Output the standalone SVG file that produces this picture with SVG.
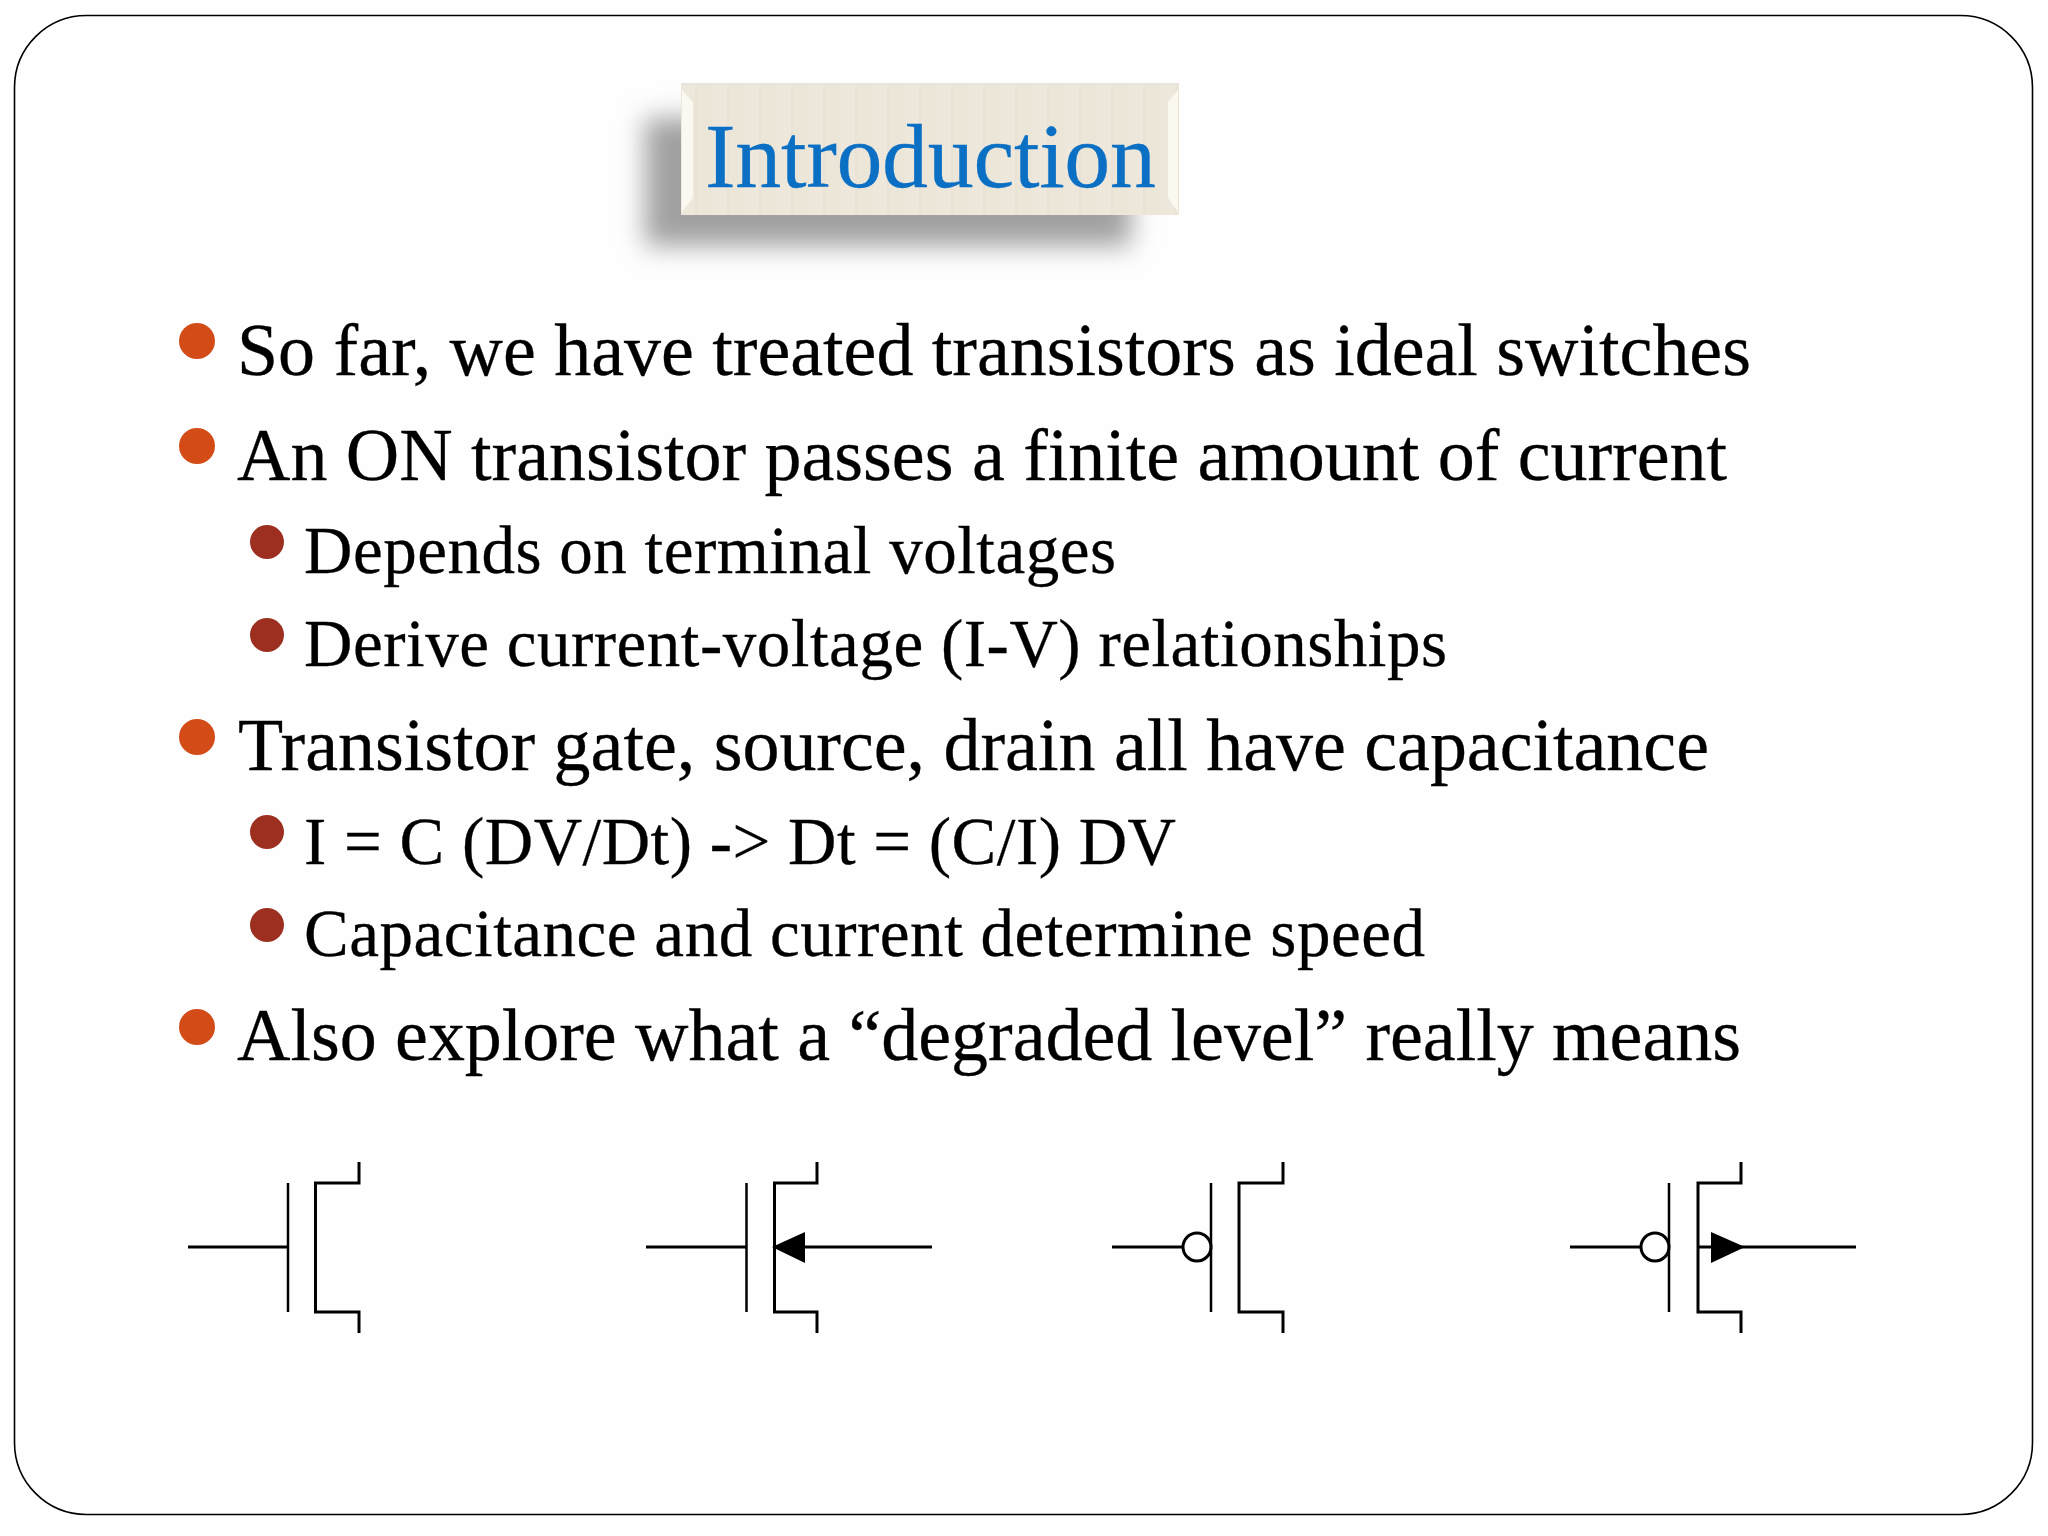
<svg xmlns="http://www.w3.org/2000/svg" width="2048" height="1536" viewBox="0 0 2048 1536">
<style>
text{font-family:"Liberation Serif","Times New Roman",serif;fill:#000;stroke:#000;stroke-width:.3}
.l1{font-size:74px}
.l2{font-size:67px}
.b1{fill:#d34c18}
.b2{fill:#9c2f1f}
.w{fill:none;stroke:#000;stroke-width:3}
.g{fill:none;stroke:#000;stroke-width:2.5}
</style>
<defs>
<filter id="blur" x="-20%" y="-40%" width="140%" height="180%"><feGaussianBlur stdDeviation="13"/></filter>
<pattern id="stripes" width="32" height="10" patternUnits="userSpaceOnUse" x="681" y="83">
<rect width="32" height="10" fill="#ece6d9"/><rect x="0" width="14" height="10" fill="#eee8dc"/><rect x="14" width="2" height="10" fill="#eae3d5"/>
</pattern>
</defs>
<rect width="2048" height="1536" fill="#fff"/>
<rect id="frame" x="14.500" y="15.500" width="2018" height="1499" rx="72" ry="72" fill="#fefefe" stroke="#000" stroke-width="1.600"/>
<g id="title">
<rect x="645" y="118" width="486" height="128" fill="#a0a0a0" filter="url(#blur)"/>
<rect x="681" y="83" width="498" height="132" fill="url(#stripes)"/>
<path d="M681 83H1179V85H681Z" fill="#e6e6de"/>
<path d="M682 90L693 102V198L682 212Z" fill="#fbf8f0"/>
<path d="M1178 90L1168 102V198L1178 212Z" fill="#fbf8f0"/>
<text x="705" y="187" font-size="92" style="fill:#0b6fc4;stroke:#0b6fc4" textLength="451">Introduction</text>
</g>
<g id="bullets">
<circle class="b1" cx="197" cy="341" r="18"/>
<circle class="b1" cx="197" cy="446" r="18"/>
<circle class="b2" cx="267" cy="542" r="17"/>
<circle class="b2" cx="267" cy="635" r="17"/>
<circle class="b1" cx="197" cy="737" r="18"/>
<circle class="b2" cx="267" cy="832" r="17"/>
<circle class="b2" cx="267" cy="925" r="17"/>
<circle class="b1" cx="197" cy="1027" r="18"/>
<text class="l1" x="237" y="375" textLength="1514">So far, we have treated transistors as ideal switches</text>
<text class="l1" x="237" y="480" textLength="1490">An ON transistor passes a finite amount of current</text>
<text class="l2" x="304" y="573" textLength="812">Depends on terminal voltages</text>
<text class="l2" x="304" y="666" textLength="1143">Derive current-voltage (I-V) relationships</text>
<text class="l1" x="238" y="770" textLength="1471">Transistor gate, source, drain all have capacitance</text>
<text class="l2" x="304" y="864" textLength="872">I = C (DV/Dt) -&gt; Dt = (C/I) DV</text>
<text class="l2" x="304" y="956" textLength="1121">Capacitance and current determine speed</text>
<text class="l1" x="237" y="1060" textLength="1504">Also explore what a “degraded level” really means</text>
</g>
<g id="connectors">
<path class="w" d="M188 1247H288"/>
<path class="g" d="M288 1183V1312"/>
<path class="w" d="M359 1162V1183H315.500V1312H359V1333"/>
<path class="w" d="M646 1247H746"/>
<path class="g" d="M746.500 1183V1312"/>
<path class="w" d="M817 1162V1183H774.500V1312H817V1333"/>
<path class="w" d="M800 1247H932"/>
<path d="M772 1247L805 1232V1263Z"/>
<path class="w" d="M1112 1247H1183"/>
<circle class="w" cx="1197" cy="1247" r="14" style="fill:#fefefe"/>
<path class="g" d="M1211 1183V1312"/>
<path class="w" d="M1283 1162V1183H1239V1312H1283V1333"/>
<path class="w" d="M1570 1247H1641"/>
<circle class="w" cx="1655" cy="1247" r="14" style="fill:#fefefe"/>
<path class="g" d="M1669 1183V1312"/>
<path class="w" d="M1741 1162V1183H1698V1312H1741V1333"/>
<path class="w" d="M1698 1247H1856"/>
<path d="M1711 1232L1745 1247L1711 1263Z"/>
</g>
</svg>
